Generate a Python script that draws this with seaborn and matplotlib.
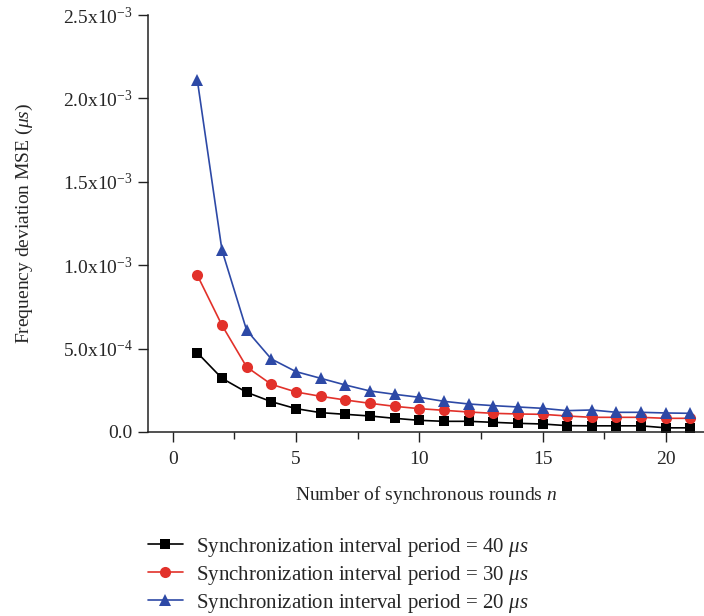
import numpy as np
import pandas as pd
import seaborn as sns
import matplotlib
matplotlib.use("Agg")
import matplotlib.pyplot as plt
from matplotlib.ticker import FuncFormatter, MultipleLocator

rounds = list(range(1, 22))
mse_40 = [4.75e-4, 3.22e-4, 2.38e-4, 1.82e-4, 1.40e-4, 1.16e-4, 1.06e-4, 0.96e-4, 0.82e-4, 0.70e-4,
          0.64e-4, 0.64e-4, 0.58e-4, 0.52e-4, 0.48e-4, 0.38e-4, 0.37e-4, 0.37e-4, 0.37e-4, 0.25e-4, 0.25e-4]
mse_30 = [9.40e-4, 6.40e-4, 3.90e-4, 2.86e-4, 2.40e-4, 2.14e-4, 1.92e-4, 1.72e-4, 1.54e-4, 1.40e-4,
          1.30e-4, 1.20e-4, 1.12e-4, 1.08e-4, 1.06e-4, 0.96e-4, 0.88e-4, 0.88e-4, 0.88e-4, 0.82e-4, 0.82e-4]
mse_20 = [2.11e-3, 1.09e-3, 6.10e-4, 4.38e-4, 3.62e-4, 3.22e-4, 2.82e-4, 2.46e-4, 2.26e-4, 2.08e-4,
          1.84e-4, 1.68e-4, 1.58e-4, 1.50e-4, 1.42e-4, 1.28e-4, 1.32e-4, 1.18e-4, 1.18e-4, 1.14e-4, 1.12e-4]
labels = [r"Synchronization interval period = 40 $μs$",
          r"Synchronization interval period = 30 $μs$",
          r"Synchronization interval period = 20 $μs$"]

sns.set_style("ticks")
plt.rcParams["font.family"] = ["Liberation Serif", "DejaVu Serif"]
plt.rcParams["mathtext.fontset"] = "custom"
plt.rcParams["mathtext.rm"] = "Liberation Serif"
plt.rcParams["mathtext.it"] = "Liberation Serif:italic"

df = pd.concat([
    pd.DataFrame({"n": rounds, "mse": mse_40, "series": labels[0]}),
    pd.DataFrame({"n": rounds, "mse": mse_30, "series": labels[1]}),
    pd.DataFrame({"n": rounds, "mse": mse_20, "series": labels[2]}),
])

colors = {labels[0]: "#000000", labels[1]: "#e2312a", labels[2]: "#2d49a6"}
markers = {labels[0]: "s", labels[1]: "o", labels[2]: "^"}
msizes = {labels[0]: 7, labels[1]: 8, labels[2]: 9}

fig = plt.figure(figsize=(7.04, 6.16), dpi=100)
ax = fig.add_axes([148/704, 1-432/616, 1-148/704, (432-15)/616])

for lab in labels:
    sns.lineplot(data=df[df.series == lab], x="n", y="mse", ax=ax, color=colors[lab],
                 marker=markers[lab], markersize=msizes[lab], markeredgewidth=0,
                 linewidth=1.2, label=lab)

ax.set_xlim(-1, 21.55)
ax.set_ylim(0, 2.5e-3)
ax.xaxis.set_major_locator(MultipleLocator(5))
ax.xaxis.set_minor_locator(MultipleLocator(2.5))
ax.yaxis.set_major_locator(MultipleLocator(5e-4))

def yfmt(v, pos):
    if abs(v) < 1e-12:
        return "0.0"
    exp = int(np.floor(np.log10(abs(v)) + 1e-9))
    mant = v / 10**exp
    return r"%.1fx10$^{%d}$" % (mant, exp)

ax.yaxis.set_major_formatter(FuncFormatter(yfmt))
ax.tick_params(axis="both", which="major", length=7, width=1, labelsize=14, color="#222222")
ax.tick_params(axis="x", which="minor", length=5, width=1, color="#222222")
ax.tick_params(axis="x", pad=7)
ax.tick_params(axis="y", pad=4)
sns.despine(ax=ax)
for s in ["left", "bottom"]:
    ax.spines[s].set_linewidth(1.1)
    ax.spines[s].set_color("#222222")

ax.set_xlabel(r"Number of synchronous rounds $n$", fontsize=14, labelpad=11)
ax.set_ylabel(r"Frequency deviation MSE ($μs$)", fontsize=14, labelpad=20)

ax.legend_.remove()
h, l = ax.get_legend_handles_labels()
fig.legend(h, l, loc="upper left", bbox_to_anchor=(129/704, 1-517/616), frameon=False,
           fontsize=15, handlelength=1.7, labelspacing=0.24, handletextpad=0.6)

fig.savefig("out.png", dpi=100)
